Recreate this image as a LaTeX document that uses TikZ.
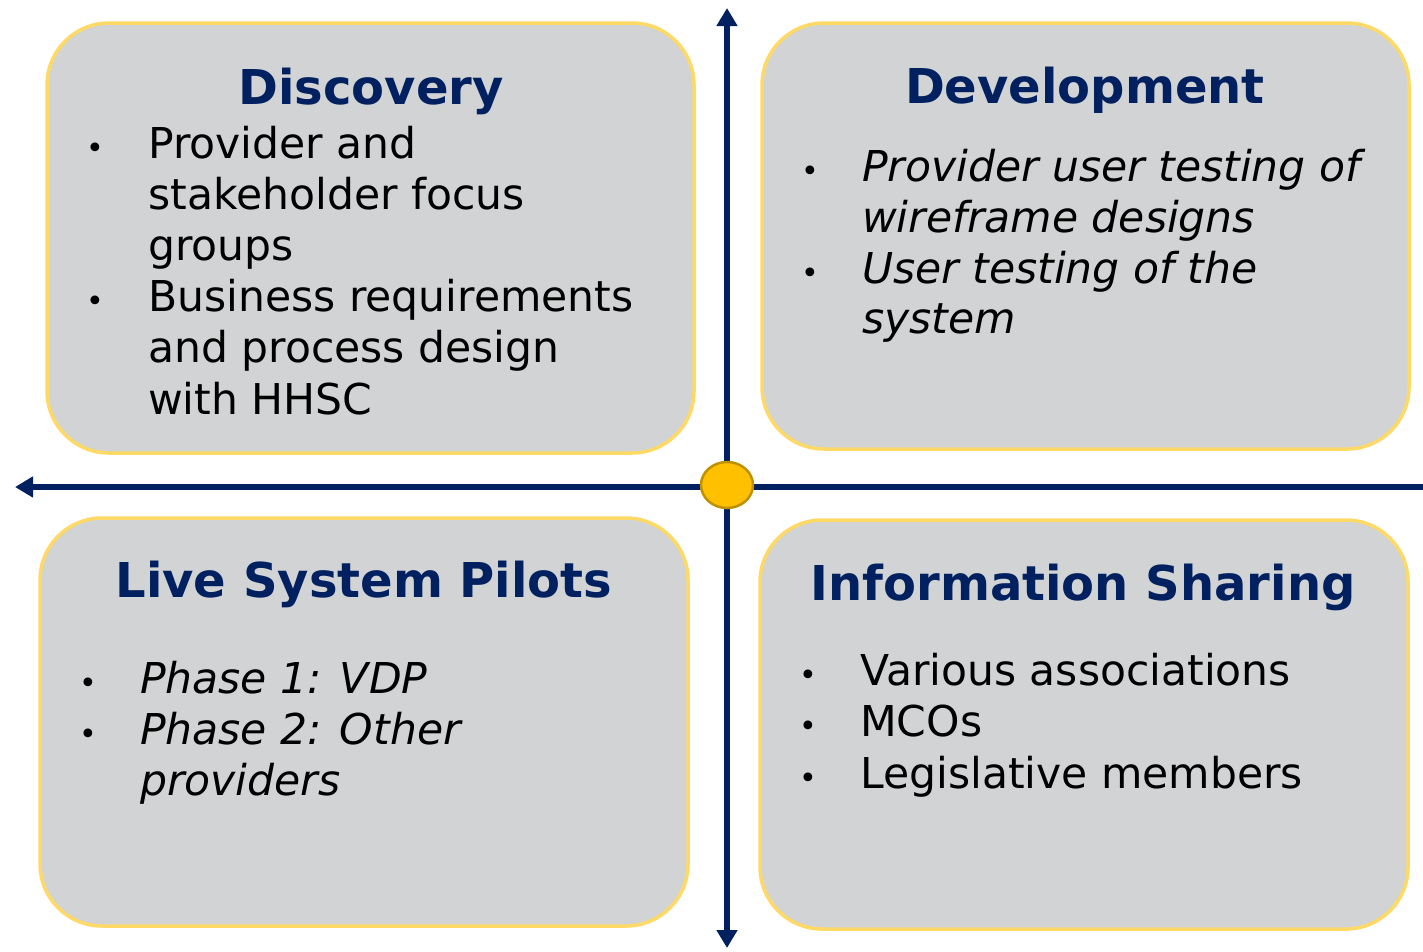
\documentclass[tikz,border=0pt]{standalone}
\usepackage{fontspec}
\setmainfont{DejaVu Sans}
\usetikzlibrary{arrows.meta}
\definecolor{navy}{HTML}{002060}
\definecolor{boxfill}{HTML}{D1D3D4}
\definecolor{boxedge}{HTML}{FFD966}
\definecolor{dotfill}{HTML}{FFC000}
\definecolor{dotedge}{HTML}{BF9000}
\tikzset{
  quad/.style={draw=boxedge, fill=boxfill, line width=3.5pt, rounded corners=62pt},
  axisline/.style={draw=navy, line width=6pt},
  tip/.style={-{Triangle[length=18pt,width=20pt]}},
  title/.style={text=navy, font=\fontsize{48}{58}\selectfont\bfseries, anchor=base, inner sep=0pt},
  body/.style={font=\fontsize{42.5}{51}\selectfont, anchor=base west, inner sep=0pt},
  ibody/.style={font=\fontsize{42.5}{51}\selectfont\itshape, anchor=base west, inner sep=0pt},
  bul/.style={font=\fontsize{30}{51}\selectfont, anchor=base, inner sep=0pt},
}
\begin{document}
\begin{tikzpicture}[x=1pt,y=-1pt]
\useasboundingbox (0,0) rectangle (1423,951);
% boxes
\draw[quad] (47,23) rectangle (694,453);
\draw[quad] (762,23) rectangle (1409,449);
\draw[quad] (40,518) rectangle (688,926);
\draw[quad] (760,520) rectangle (1408,929);
% axes
\coordinate (top) at (727,8);
\coordinate (bot) at (727,948);
\coordinate (left) at (15,487);
\coordinate (right) at (1423,487);
\coordinate (mid) at (727,487);
\draw[axisline,tip] (mid) -- (top);
\draw[axisline,tip] (mid) -- (bot);
\draw[axisline,tip] (mid) -- (left);
\draw[axisline] (mid) -- (right);
\draw[draw=dotedge, fill=dotfill, line width=2.5pt] (727,485) ellipse [x radius=26pt, y radius=23pt];
% Discovery
\node[title] (t1) at (371,104) {Discovery};
\node[bul] (b11) at (95,158) {•};
\node[body] (l11) at (148,158) {Provider and};
\node[body] (l12) at (148,209) {stakeholder focus};
\node[body] (l13) at (148,260) {groups};
\node[bul] (b12) at (95,311) {•};
\node[body] (l14) at (148,311) {Business requirements};
\node[body] (l15) at (148,362) {and process design};
\node[body] (l16) at (148,414) {with HHSC};
% Development
\node[title] (t2) at (1085,103) {Development};
\node[bul] (b21) at (810,181) {•};
\node[ibody] (l21) at (862,181) {Provider user testing of};
\node[ibody] (l22) at (862,232) {wireframe designs};
\node[bul] (b22) at (810,283) {•};
\node[ibody] (l23) at (862,283) {User testing of the};
\node[ibody] (l24) at (862,333) {system};
% Live System Pilots
\node[title] (t3) at (364,597) {Live System Pilots};
\node[bul] (b31) at (88,693) {•};
\node[ibody] (l31) at (140,693) {Phase 1: VDP};
\node[bul] (b32) at (88,744) {•};
\node[ibody] (l32) at (140,744) {Phase 2: Other};
\node[ibody] (l33) at (140,795) {providers};
% Information Sharing
\node[title] (t4) at (1083,600) {Information Sharing};
\node[bul] (b41) at (808,685) {•};
\node[body] (l41) at (860,685) {Various associations};
\node[bul] (b42) at (808,736) {•};
\node[body] (l42) at (860,736) {MCOs};
\node[bul] (b43) at (808,788) {•};
\node[body] (l43) at (860,788) {Legislative members};
\end{tikzpicture}
\end{document}
